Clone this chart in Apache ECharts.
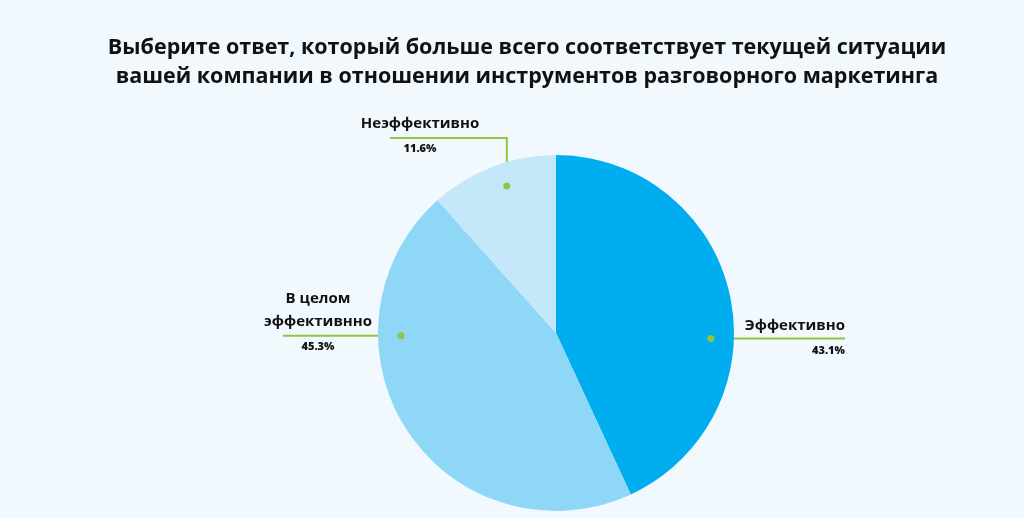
<!DOCTYPE html>
<html><head><meta charset="utf-8">
<script src="https://cdn.jsdelivr.net/npm/echarts@6/dist/echarts.min.js"></script>
<style>html,body{margin:0;background:#F2F9FE}#c{width:1024px;height:518px}</style>
</head><body><div id="c"></div>
<script>
const categories = ['Эффективно', 'В целом\nэффективнно', 'Неэффективно'];
const values = [43.1, 45.3, 11.6];
const colors = ['#00AEEF', '#8FD7F7', '#C4E7F9'];
const titleLines = ['Выберите ответ, который больше всего соответствует текущей ситуации', 'вашей компании в отношении инструментов разговорного маркетинга'];
const anchorAngles = [92, 269, 341.5];

const C = [556, 333], R = 178, RA = 155;
const anchor = i => { const a = anchorAngles[i] * Math.PI / 180; return [C[0] + RA * Math.sin(a), C[1] - RA * Math.cos(a)]; };
const chart = echarts.init(document.getElementById('c'));
const data = categories.map((c, i) => ({ name: c, value: values[i], itemStyle: { color: colors[i] } }));
const F = '"Open Sans", sans-serif';
chart.setOption({
  backgroundColor: '#F2F9FE',
  title: { text: titleLines.join('\n'), left: 522, top: 28, textAlign: 'center',
    textStyle: { fontFamily: F, fontWeight: 'bold', fontSize: 21.5, lineHeight: 29, color: '#111' } },
  graphic: categories.map((c, i) => ({ type: 'circle', z: 100, shape: { cx: anchor(i)[0], cy: anchor(i)[1], r: 3.5 }, style: { fill: '#8DC63F' } })),
  series: [
    { type: 'pie', center: C, radius: [0, R], startAngle: 90, silent: true,
      label: { show: false }, labelLine: { show: false }, data: data },
    { type: 'pie', center: C, radius: [0, RA], startAngle: 90, silent: true,
      itemStyle: { color: 'transparent' },
      data: categories.map((c, i) => ({ name: c, value: values[i] })),
      label: { show: true, fontFamily: F, color: '#111',
        formatter: p => p.name.split('\n').map(s => '{n|' + s + '}').join('\n') + '\n{v|' + p.value.toFixed(1) + '%}',
        rich: { n: { fontFamily: F, fontWeight: 'bold', fontSize: 15, lineHeight: 23, color: '#111' },
                v: { fontFamily: F, fontWeight: 900, fontSize: 11, lineHeight: 27, color: '#111' } } },
      labelLine: { show: true, lineStyle: { color: '#8DC63F', width: 2 } },
      labelLayout: function (params) {
        const i = params.dataIndex, p = anchor(i);
        if (i === 0) return { x: 845, y: p[1] + 1, align: 'right', verticalAlign: 'middle',
          labelLinePoints: [p, [845, p[1]]] };
        if (i === 1) return { x: 318, y: p[1] - 12, align: 'center', verticalAlign: 'middle',
          labelLinePoints: [p, [283, p[1]]] };
        return { x: 420, y: 137, align: 'center', verticalAlign: 'middle',
          labelLinePoints: [p, [p[0], 138], [390, 138]] };
      }
    }
  ]
});
</script></body></html>
